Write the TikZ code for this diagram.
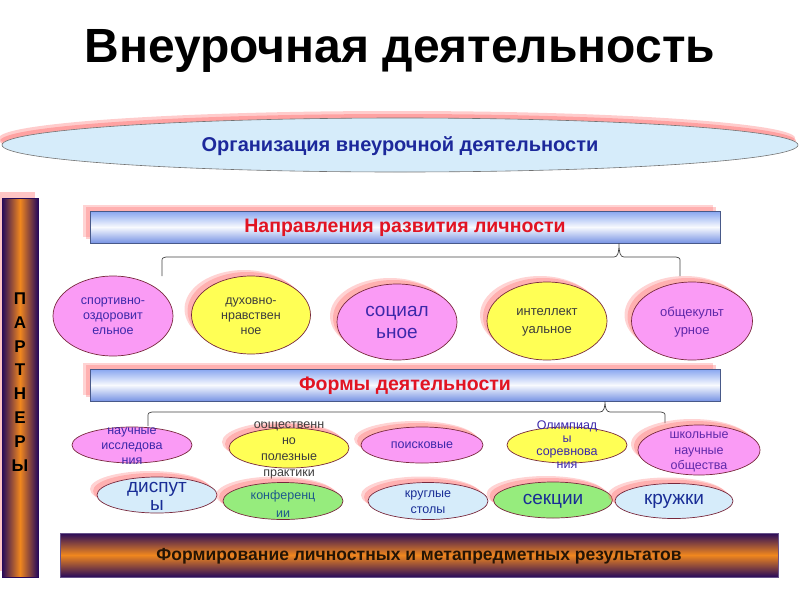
\documentclass[tikz,border=0pt]{standalone}
\usepackage{fontspec}
\setmainfont{Liberation Sans}
\usetikzlibrary{shapes.geometric}
\definecolor{pinkE}{RGB}{250,155,245}
\definecolor{yellowE}{RGB}{255,255,85}
\definecolor{blueE}{RGB}{214,236,250}
\definecolor{greenE}{RGB}{150,236,125}
\definecolor{shred}{RGB}{255,110,110}
\definecolor{edgeE}{RGB}{120,40,60}
\definecolor{tblue}{RGB}{60,40,170}
\definecolor{tpurple}{RGB}{95,40,170}
\definecolor{tgray}{RGB}{60,60,60}
\definecolor{tteal}{RGB}{30,90,140}
\definecolor{tdblue}{RGB}{25,45,150}
\definecolor{barA}{RGB}{135,165,240}
\definecolor{barB}{RGB}{120,148,228}
\definecolor{dpurple}{RGB}{40,10,90}
\definecolor{orangeB}{RGB}{240,135,30}
\definecolor{redT}{RGB}{225,20,35}
\definecolor{navyT}{RGB}{28,40,155}
\tikzset{
  shd/.style={
    preaction={fill=shred, fill opacity=0.3, draw=none, transform canvas={shift={(-7pt,6pt)}}},
    preaction={fill=shred, fill opacity=0.35, draw=none, transform canvas={shift={(-4pt,4pt)}}}},
  ell/.style={ellipse, draw=edgeE, line width=0.7pt, inner sep=0pt},
  etext/.style={align=center, inner sep=0pt, font=\fontsize{12.5}{15}\selectfont},
  btext/.style={align=center, inner sep=0pt, font=\fontsize{19}{19}\selectfont},
  barbox/.style={rectangle, draw=barB!60!black, line width=0.6pt, minimum width=630pt, minimum height=32pt,
     top color=barA, bottom color=barB, middle color=white!94!barA, inner sep=0pt},
  brace/.style={draw=black!75, line width=0.7pt}
}
\begin{document}
\begin{tikzpicture}[x=1pt,y=-1pt]
\useasboundingbox (0,0) rectangle (800,600);

% title
\node[inner sep=0pt] (title) at (400,51) {\fontsize{48}{52}\selectfont\bfseries Внеурочная деятельность};

% top ellipse
\node[ellipse, draw=black!55, line width=0.6pt, fill=blueE, minimum width=796pt, minimum height=54pt,
      preaction={fill=shred, fill opacity=0.35, draw=none, transform canvas={shift={(-3pt,7pt)}}},
      preaction={fill=shred, fill opacity=0.45, draw=none, transform canvas={shift={(-2pt,4pt)}}}] (org) at (400,145) {};
\node[inner sep=0pt, text=navyT] (orgt) at (400,146) {\fontsize{20}{20}\selectfont\bfseries Организация внеурочной деятельности};

% left bar
\node[rectangle, draw=dpurple, line width=0.5pt, minimum width=36pt, minimum height=379pt, inner sep=0pt,
      left color=dpurple, right color=dpurple, middle color=orangeB,
      preaction={fill=shred, fill opacity=0.4, transform canvas={shift={(-3pt,7pt)}}}] (partn) at (20,388) {};
\node[align=center, inner sep=0pt, text=black, font=\fontsize{17}{23.9}\selectfont\bfseries] (partt) at (20,382) {П\\А\\Р\\Т\\Н\\Е\\Р\\Ы};

% bar 1
\node[barbox, shd] (dir) at (405,227) {};
\node[inner sep=0pt, text=redT] (dirt) at (405,228) {\fontsize{19.5}{19.5}\selectfont\bfseries Направления развития личности};

% brace 1
\coordinate (b1l) at (162,276);
\coordinate (b1r) at (680,276);
\draw[brace] (b1l) -- (162,262) .. controls (162,258) .. (166,257) -- (614,257)
  .. controls (618,257) and (619,252) .. (dir.south -| 619,0)
  .. controls (619,252) and (620,257) .. (624,257) -- (676,257)
  .. controls (680,258) .. (680,262) -- (b1r);

% row 1
\node[ell, fill=pinkE, minimum width=120pt, minimum height=80pt] (sport) at (113,316) {};
\node[etext, text=tblue] (sportt) at (113,316) {спортивно-\\оздоровит\\ельное};
\node[ell, shd, fill=yellowE, minimum width=119pt, minimum height=78pt] (dukh) at (251,315) {};
\node[etext, text=tgray] (dukht) at (251,316) {духовно-\\нравствен\\ное};
\node[ell, shd, fill=pinkE, minimum width=120pt, minimum height=76pt] (soc) at (397,322) {};
\node[btext, text=tblue, font=\fontsize{19}{22}\selectfont] (soct) at (397,322) {социал\\ьное};
\node[ell, shd, fill=yellowE, minimum width=120pt, minimum height=78pt] (intel) at (547,321) {};
\node[etext, text=tgray, font=\fontsize{13}{18}\selectfont] (intelt) at (547,322) {интеллект\\уальное};
\node[ell, shd, fill=pinkE, minimum width=121pt, minimum height=78pt] (obsh) at (692,321) {};
\node[etext, text=tpurple, font=\fontsize{13}{18}\selectfont] (obsht) at (692,322) {общекульт\\урное};

% bar 2
\node[barbox, shd] (form) at (405,385) {};
\node[inner sep=0pt, text=redT] (formt) at (405,386) {\fontsize{19.5}{19.5}\selectfont\bfseries Формы деятельности};

% brace 2
\coordinate (b2l) at (148,426);
\coordinate (b2r) at (665,423);
\draw[brace] (b2l) -- (148,417) .. controls (148,413) .. (152,412) -- (600,412)
  .. controls (604,412) and (605,407) .. (form.south -| 605,0)
  .. controls (605,407) and (606,412) .. (610,412) -- (661,412)
  .. controls (665,413) .. (665,417) -- (b2r);

% row 2
\node[ell, fill=pinkE, minimum width=120pt, minimum height=36pt] (nauch) at (132,445) {};
\node[etext, text=tblue] (naucht) at (132,446) {научные\\исследова\\ния};
\node[ell, shd, fill=yellowE, minimum width=120pt, minimum height=40pt] (opp) at (289,448) {};
\begin{scope}
\clip (215,421) rectangle (365,485);
\node[etext, text=tgray, font=\fontsize{12.5}{16}\selectfont] (oppt) at (289,449.5) {общественн\\но\\полезные\\практики};
\end{scope}
\node[ell, shd, fill=pinkE, minimum width=122pt, minimum height=36pt] (poisk) at (422,445) {};
\node[etext, text=tblue] (poiskt) at (422,445) {поисковые};
\node[ell, fill=yellowE, minimum width=120pt, minimum height=36pt] (olymp) at (567,445) {};
\node[etext, text=tblue, font=\fontsize{12.5}{13}\selectfont] (olympt) at (567,445) {Олимпиад\\ы\\соревнова\\ния};
\node[ell, shd, fill=pinkE, minimum width=122pt, minimum height=50pt] (shkol) at (699,450) {};
\node[etext, text=tpurple, font=\fontsize{12.5}{15.5}\selectfont] (shkolt) at (699,452) {школьные\\научные\\общества};

% row 3
\node[ell, shd, fill=blueE, minimum width=120pt, minimum height=36pt] (disp) at (157,495) {};
\node[btext, text=tdblue, font=\fontsize{19}{18}\selectfont] (dispt) at (157,496) {диспут\\ы};
\node[ell, shd, fill=greenE, minimum width=120pt, minimum height=37pt] (konf) at (283,501) {};
\node[etext, text=tteal, font=\fontsize{12.5}{18}\selectfont] (konft) at (283,504) {конференц\\ии};
\node[ell, shd, fill=blueE, minimum width=120pt, minimum height=37pt] (krug) at (428,501) {};
\node[etext, text=tdblue, font=\fontsize{12.5}{16}\selectfont] (krugt) at (428,502) {круглые\\столы};
\node[ell, shd, fill=greenE, minimum width=119pt, minimum height=36pt] (sek) at (553,500) {};
\node[btext, text=tdblue] (sekt) at (553,501) {секции};
\node[ell, shd, fill=blueE, minimum width=118pt, minimum height=35pt] (kruzh) at (674,501) {};
\node[btext, text=tdblue] (kruzht) at (674,501) {кружки};

% bottom bar
\node[rectangle, draw=dpurple!70!white, line width=0.5pt, minimum width=718pt, minimum height=44pt, inner sep=0pt,
      top color=dpurple, bottom color=dpurple, middle color=orangeB] (res) at (419,555) {};
\node[inner sep=0pt, text=black!85!orangeB] (rest) at (419,556) {\fontsize{17.5}{17.5}\selectfont\bfseries Формирование личностных и метапредметных результатов};
\end{tikzpicture}
\end{document}
